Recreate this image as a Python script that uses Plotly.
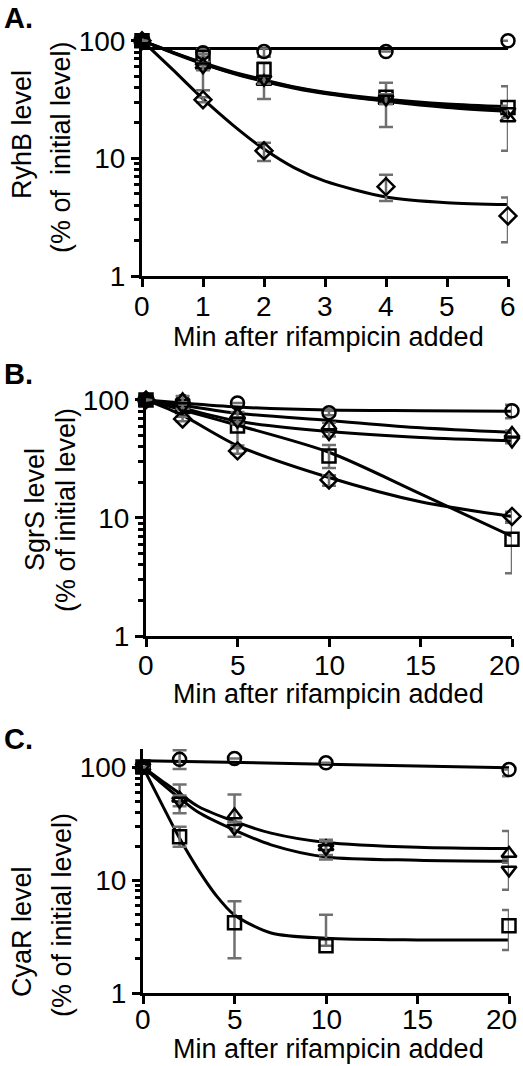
import plotly.graph_objects as go

W, H = 523, 1066

# ---------------- data ----------------
SYMBOLS = ["circle-open", "square-open", "triangle-up-open", "triangle-down-open", "diamond-open"]

# Panel A  RyhB
tA = [0, 1, 2, 4, 6]
A_circle = [100, 79, 81, 81, 100]
A_circle_ep = [0, 6, 5, 0, 0]
A_circle_em = [0, 6, 8, 0, 0]
A_square = [100, 72, 57, 33, 27]
A_square_ep = [0, 5, 8, 11, 14]
A_square_em = [0, 10, 10, 4, 3]
A_tri_up = [100, 62, 45, 31, 22]
A_tri_up_ep = [0, 4, 4, 3, 3]
A_tri_up_em = [0, 24, 13, 12.5, 10.4]
A_tri_dn = [100, 60, 47, 32, 25]
A_tri_dn_ep = [0, 4, 3, 3, 3]
A_tri_dn_em = [0, 4, 4, 3, 3]
A_diamond = [100, 31.5, 11.6, 5.75, 3.24]
A_diamond_ep = [0, 1.5, 2.0, 1.5, 1.4]
A_diamond_em = [0, 1.5, 2.1, 1.4, 1.3]

tA_fit = [0, 0.5, 1, 1.5, 2, 2.5, 3, 4, 5, 6]
A_fit_square = [100, 80, 65, 54, 46.5, 40.5, 36.5, 31.8, 29, 27.5]
A_fit_tri_up = [100, 79, 63.5, 52.5, 45, 39.5, 35.5, 30.5, 27, 25]
A_fit_tri_dn = [100, 79.5, 64, 53, 45.5, 40, 36, 31, 27.8, 26]
A_fit_diamond = [100, 57, 32, 19, 12, 8.3, 6.4, 4.7, 4.2, 4.05]
tA_fit_circle = [0, 6]
A_fit_circle = [86, 86]

# Panel B  SgrS
tB = [0, 2, 5, 10, 20]
B_circle = [100, 97, 94, 78, 81]
B_circle_ep = [0, 3, 0, 4, 10]
B_circle_em = [0, 3, 0, 4, 11]
B_square = [100, 88, 60, 33.5, 6.6]
B_square_ep = [0, 4, 5, 8, 2.5]
B_square_em = [0, 4, 19, 7, 3.2]
B_tri_up = [100, 100, 75, 60, 52]
B_tri_up_ep = [0, 8, 4, 4, 3]
B_tri_up_em = [0, 8, 4, 4, 3]
B_tri_dn = [100, 88, 66, 52, 45]
B_tri_dn_ep = [0, 4, 3, 3, 2]
B_tri_dn_em = [0, 4, 3, 3, 2]
B_diamond = [100, 69, 37, 21, 10.3]
B_diamond_ep = [0, 3, 2, 2, 1]
B_diamond_em = [0, 3, 2, 2.3, 1]

tB_fit = [0, 2, 5, 10, 15, 20]
B_fit_circle = [100, 94, 87, 82, 81, 80]
B_fit_square = [100, 82, 61, 36, 16, 7]
B_fit_tri_up = [100, 90, 77, 67, 58, 53]
B_fit_tri_dn = [100, 85, 66, 54, 48, 45]
B_fit_diamond = [100, 74, 41, 22, 13.7, 10.3]

# Panel C  CyaR
tC = [0, 2, 5, 10, 20]
C_circle = [100, 117, 119, 109, 95]
C_circle_ep = [0, 24, 0, 0, 0]
C_circle_em = [0, 21, 0, 0, 12]
C_square = [100, 24.2, 4.19, 2.62, 3.94]
C_square_ep = [0, 5.4, 2.3, 2.3, 1.5]
C_square_em = [0, 4.5, 2.16, 0, 1.54]
C_tri_up = [100, 53, 37.6, 19.7, 17.2]
C_tri_up_ep = [0, 17, 19.7, 3, 10]
C_tri_up_em = [0, 8, 5, 3, 3]
C_tri_dn = [100, 50, 28.7, 19, 12.3]
C_tri_dn_ep = [0, 6, 4, 3, 3]
C_tri_dn_em = [0, 11, 4.5, 3.8, 4.1]

tC_fit = [0, 1, 2, 3, 5, 7, 10, 15, 20]
C_fit_tri_up = [100, 76, 58.5, 45, 33, 26, 21.5, 19.5, 19]
C_fit_tri_dn = [100, 72, 53, 40, 27.7, 20.5, 16, 15, 14.7]
tC_fit_sq = [0, 1, 2, 3, 4, 5, 7, 10, 15, 20]
C_fit_square = [100, 48, 23.4, 12.5, 7.3, 4.9, 3.4, 3.05, 2.95, 2.94]
tC_fit_circle = [0, 10, 20]
C_fit_circle = [114, 106, 98.6]

xticksA = [0, 1, 2, 3, 4, 5, 6]
xticksBC = [0, 5, 10, 15, 20]
titlesY = [("RyhB level", "(% of  initial level)"), ("SgrS level", "(% of initial level)"), ("CyaR level", "(% of initial level)")]
panel_letters = ["A.", "B.", "C."]
xtitle = "Min after rifampicin added"

# ---------------- layout geometry ----------------
FONT = "Liberation Sans, Arial, sans-serif"
def px(x):
    return x / W
def py(y):
    return 1 - y / H

# (x0, x1, ybottom, ytop, yrange_top, xmax, xticks)
geo = [
    (142, 508, 276, 36, 2.04, 6, xticksA),
    (146, 512, 636, 394, 2.05, 20, xticksBC),
    (143, 509, 993, 749, 2.16, 20, xticksBC),
]

fig = go.Figure()

def ax(k):
    return "" if k == 1 else str(k)

def add_fit(t, v, k):
    fig.add_trace(go.Scatter(x=t, y=v, mode="lines", line=dict(color="black", width=3, shape="spline", smoothing=0.8),
                             xaxis="x" + ax(k), yaxis="y" + ax(k),
                             showlegend=False, hoverinfo="skip", cliponaxis=False))

def add_pts(t, v, ep, em, sym, k):
    fig.add_trace(go.Scatter(x=t, y=v, mode="markers",
                             marker=dict(symbol=sym, size=13, color="black", line=dict(width=2.5, color="black")),
                             error_y=dict(type="data", symmetric=False, array=ep, arrayminus=em,
                                          color="#707070", thickness=2.5, width=7),
                             xaxis="x" + ax(k), yaxis="y" + ax(k),
                             showlegend=False, cliponaxis=False))

# Panel A
add_fit(tA_fit_circle, A_fit_circle, 1)
add_fit(tA_fit, A_fit_square, 1)
add_fit(tA_fit, A_fit_tri_up, 1)
add_fit(tA_fit, A_fit_tri_dn, 1)
add_fit(tA_fit, A_fit_diamond, 1)
add_pts(tA, A_circle, A_circle_ep, A_circle_em, SYMBOLS[0], 1)
add_pts(tA, A_square, A_square_ep, A_square_em, SYMBOLS[1], 1)
add_pts(tA, A_tri_up, A_tri_up_ep, A_tri_up_em, SYMBOLS[2], 1)
add_pts(tA, A_tri_dn, A_tri_dn_ep, A_tri_dn_em, SYMBOLS[3], 1)
add_pts(tA, A_diamond, A_diamond_ep, A_diamond_em, SYMBOLS[4], 1)

# Panel B
add_fit(tB_fit, B_fit_circle, 2)
add_fit(tB_fit, B_fit_square, 2)
add_fit(tB_fit, B_fit_tri_up, 2)
add_fit(tB_fit, B_fit_tri_dn, 2)
add_fit(tB_fit, B_fit_diamond, 2)
add_pts(tB, B_circle, B_circle_ep, B_circle_em, SYMBOLS[0], 2)
add_pts(tB, B_square, B_square_ep, B_square_em, SYMBOLS[1], 2)
add_pts(tB, B_tri_up, B_tri_up_ep, B_tri_up_em, SYMBOLS[2], 2)
add_pts(tB, B_tri_dn, B_tri_dn_ep, B_tri_dn_em, SYMBOLS[3], 2)
add_pts(tB, B_diamond, B_diamond_ep, B_diamond_em, SYMBOLS[4], 2)

# Panel C
add_fit(tC_fit_circle, C_fit_circle, 3)
add_fit(tC_fit_sq, C_fit_square, 3)
add_fit(tC_fit, C_fit_tri_up, 3)
add_fit(tC_fit, C_fit_tri_dn, 3)
add_pts(tC, C_circle, C_circle_ep, C_circle_em, SYMBOLS[0], 3)
add_pts(tC, C_square, C_square_ep, C_square_em, SYMBOLS[1], 3)
add_pts(tC, C_tri_up, C_tri_up_ep, C_tri_up_em, SYMBOLS[2], 3)
add_pts(tC, C_tri_dn, C_tri_dn_ep, C_tri_dn_em, SYMBOLS[3], 3)

layout = dict(
    width=W, height=H, margin=dict(l=0, r=0, t=0, b=0, autoexpand=False),
    paper_bgcolor="white", plot_bgcolor="white",
    font=dict(family=FONT, size=27, color="black"),
    showlegend=False,
)
ann = []
xlabel_y = [306, 665, 1019]
for i, (x0, x1, yb, yt, ytop, xmax, xt) in enumerate(geo):
    k = ax(i + 1)
    layout["xaxis" + k] = dict(
        domain=[px(x0), px(x1)], range=[0, xmax], anchor="y" + k, automargin=False,
        showline=True, linewidth=3, linecolor="black", showgrid=False, zeroline=False,
        ticks="outside", ticklen=8, tickwidth=3, tickcolor="black",
        tickmode="array", tickvals=xt, showticklabels=False,
    )
    layout["yaxis" + k] = dict(
        domain=[py(yb), py(yt)], type="log", range=[0, ytop], anchor="x" + k, automargin=False,
        showline=True, linewidth=3, linecolor="black", showgrid=False, zeroline=False,
        ticks="outside", ticklen=8, tickwidth=3, tickcolor="black", dtick=1,
        tickfont=dict(family=FONT, size=28, color="black"),
        minor=dict(ticks="outside", ticklen=5, tickwidth=2.5, tickcolor="black", dtick="D1", showgrid=False),
    )
    # x tick labels as text at data positions
    for j, v in enumerate(xt):
        shift = -8 if (v == xt[-1] and xmax == 20) else 0
        ann.append(dict(text=str(v), x=v, y=py(xlabel_y[i]), xref="x" + k, yref="paper",
                        xanchor="center", yanchor="middle", xshift=shift, showarrow=False,
                        font=dict(family=FONT, size=28, color="black")))

# Text annotations
letters_y = [18, 374, 739]
xtitle_y = [337, 694, 1049]
ytit1 = [(22, 135), (35, 510), (22, 932)]
ytit2 = [(61, 147), (66, 510), (62, 915)]
for i in range(3):
    ann.append(dict(text="<b>%s</b>" % panel_letters[i], x=px(2), y=py(letters_y[i]), xref="paper", yref="paper",
                    xanchor="left", yanchor="middle", showarrow=False, font=dict(family=FONT, size=29, color="black")))
    ann.append(dict(text=xtitle, x=px(328), y=py(xtitle_y[i]), xref="paper", yref="paper",
                    xanchor="center", yanchor="middle", showarrow=False, font=dict(family=FONT, size=27, color="black")))
    ann.append(dict(text=titlesY[i][0], x=px(ytit1[i][0]), y=py(ytit1[i][1]), xref="paper", yref="paper",
                    xanchor="center", yanchor="middle", textangle=-90, showarrow=False,
                    font=dict(family=FONT, size=27, color="black")))
    ann.append(dict(text=titlesY[i][1], x=px(ytit2[i][0]), y=py(ytit2[i][1]), xref="paper", yref="paper",
                    xanchor="center", yanchor="middle", textangle=-90, showarrow=False,
                    font=dict(family=FONT, size=27, color="black")))
layout["annotations"] = ann

fig.update_layout(**layout)
fig.write_html("out.html", config={"displayModeBar": False},
               post_script="document.body.style.margin='0px';document.body.style.padding='0px';")
